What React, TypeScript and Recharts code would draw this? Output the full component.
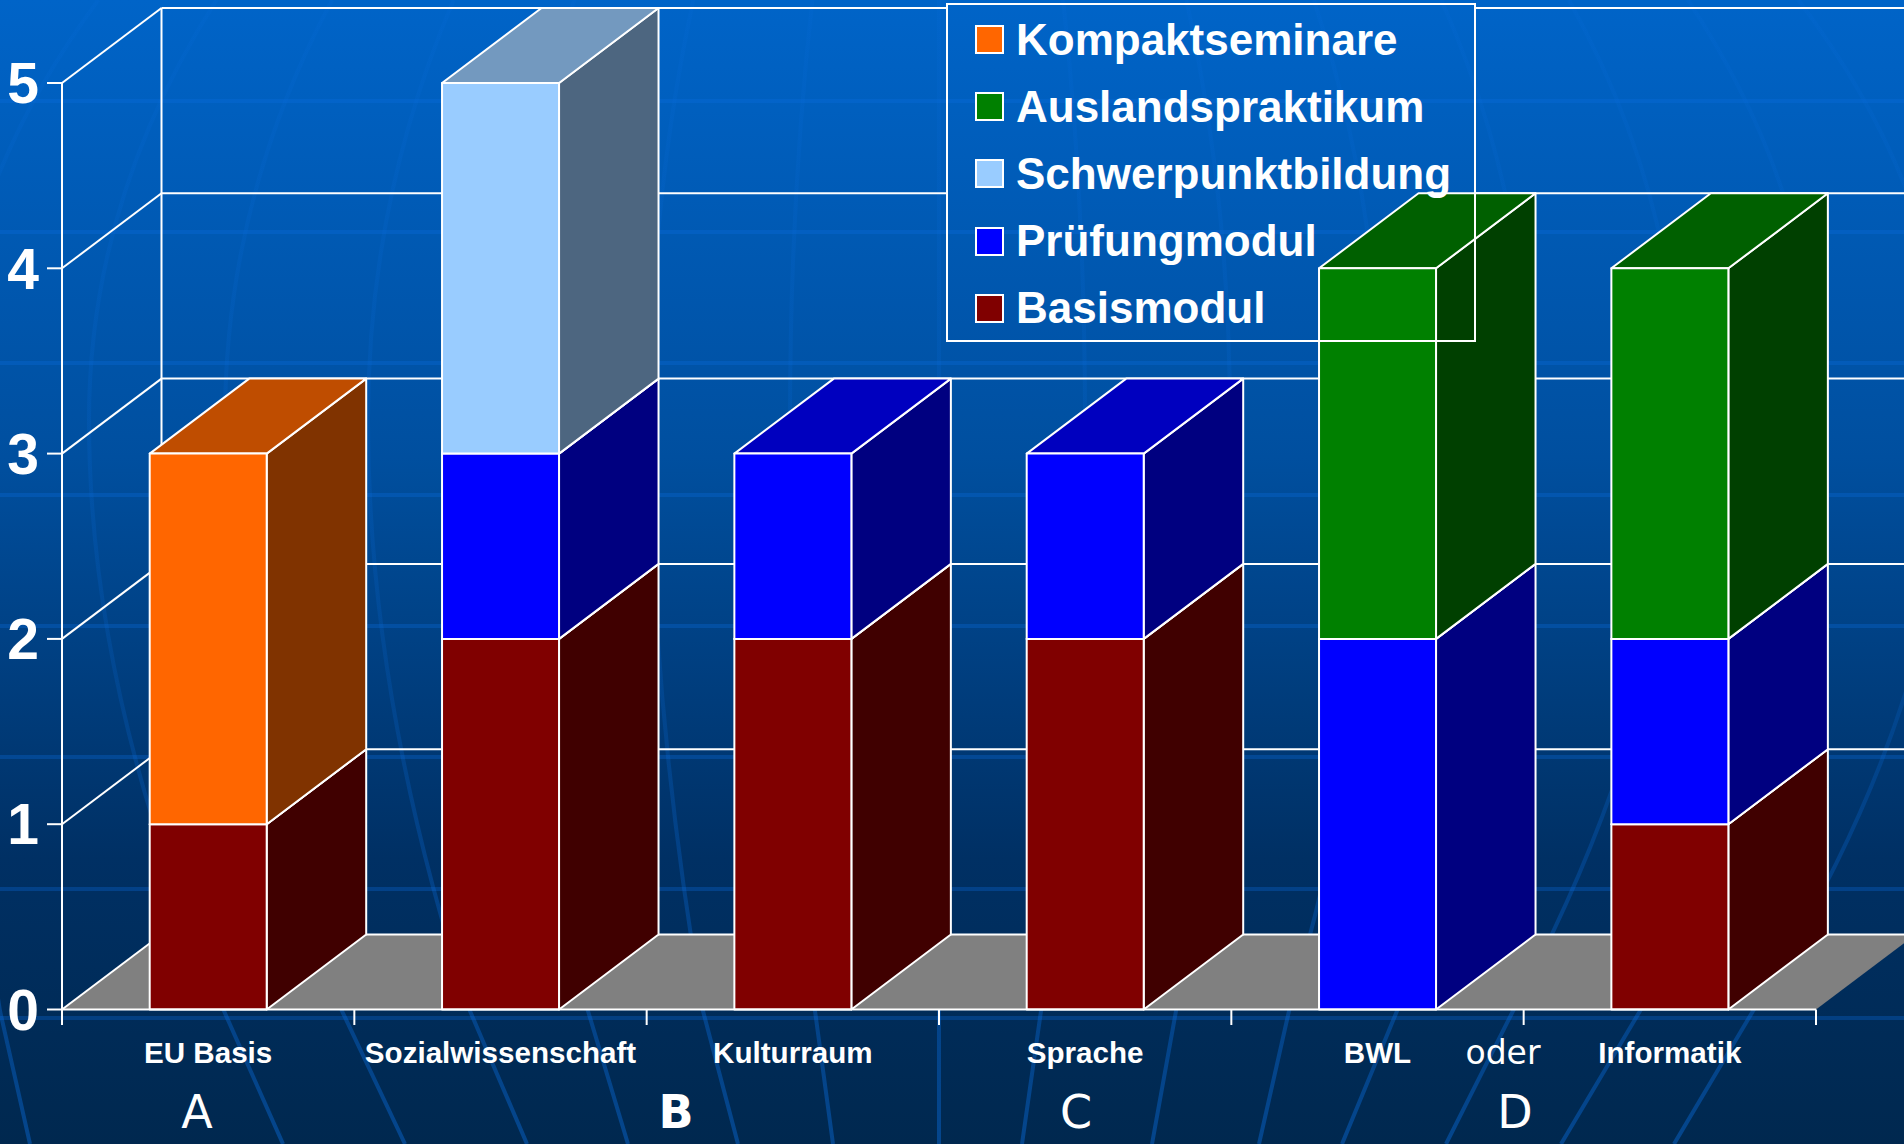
import { Bar, BarChart, Legend, ReferenceLine, XAxis, YAxis } from "recharts";

const categories = ["EU Basis", "Sozialwissenschaft", "Kulturraum", "Sprache", "BWL", "Informatik"];
const basismodul = [1, 2, 2, 2, 0, 1];
const pruefungmodul = [0, 1, 1, 1, 2, 1];
const schwerpunktbildung = [0, 2, 0, 0, 0, 0];
const auslandspraktikum = [0, 0, 0, 0, 2, 2];
const kompaktseminare = [2, 0, 0, 0, 0, 0];
const yTicks = [0, 1, 2, 3, 4, 5];

const tableData = categories.map((name, i) => ({
  name,
  Basismodul: basismodul[i],
  Prüfungmodul: pruefungmodul[i],
  Schwerpunktbildung: schwerpunktbildung[i],
  Auslandspraktikum: auslandspraktikum[i],
  Kompaktseminare: kompaktseminare[i],
}));

const W = 1904;
const H = 1144;
const DEPTH_X = 99.5;
const DEPTH_Y = 75;
const PLOT_LEFT = 62;
const PLOT_RIGHT = 1816;
const PLOT_TOP = 83;
const PLOT_BOTTOM = 1009.5;
const STEP = (PLOT_RIGHT - PLOT_LEFT) / categories.length;
const FONT = '"Liberation Sans", Arial, sans-serif';

// background decoration only: [x at bottom, x at y=1011, x at y=420]
const meridians = [
  [30, 0, -50], [283, 224, 89], [405, 342, 225], [527, 470, 368], [628, 588, 510],
  [738, 703, 650], [833, 815, 790], [939, 939, 939], [1022, 1041, 1085], [1152, 1176, 1230],
  [1259, 1289, 1380], [1342, 1397, 1530], [1446, 1513, 1680], [1561, 1640, 1820], [1674, 1753, 1950],
];
const bands = [101, 232, 363, 495, 626, 757, 889, 1018];

const shade = (hex: string, k: number) => {
  const n = parseInt(hex.slice(1), 16);
  const c = [(n >> 16) & 255, (n >> 8) & 255, n & 255].map((v) => Math.round(v * k));
  return `rgb(${c.join(",")})`;
};

const Box3D = (p: any) => {
  const { x, y, width, height, fill } = p;
  if (!height || height <= 0) return <g />;
  const r = x + width;
  const b = y + height;
  return (
    <g stroke="#fff" strokeWidth={2} strokeLinejoin="round">
      <polygon
        points={`${r},${y} ${r + DEPTH_X},${y - DEPTH_Y} ${r + DEPTH_X},${b - DEPTH_Y} ${r},${b}`}
        fill={shade(fill, 0.5)}
      />
      <polygon
        points={`${x},${y} ${x + DEPTH_X},${y - DEPTH_Y} ${r + DEPTH_X},${y - DEPTH_Y} ${r},${y}`}
        fill={shade(fill, 0.75)}
      />
      <rect x={x} y={y} width={width} height={height} fill={fill} />
    </g>
  );
};

// one wall line per value: the diagonal on the side wall and the line on the back wall
const wallLine = (value: number) => (p: any) => {
  const { x1, y1, x2, y2 } = p;
  if (x1 === undefined) return <g />;
  const bx = x1 + DEPTH_X;
  const by = y1 - DEPTH_Y;
  const behindLegend = by < 342;
  return (
    <g stroke="#fff" strokeWidth={2} fill="none">
      {value === 0 && (
        <>
          <polygon
            points={`${x1},${y1} ${bx},${by} ${x2 + DEPTH_X},${by} ${x2},${y2}`}
            fill="#808080"
            stroke="none"
          />
          <line x1={bx} y1={by} x2={bx} y2={PLOT_TOP - DEPTH_Y} />
        </>
      )}
      <line x1={x1} y1={y1} x2={bx} y2={by} />
      {behindLegend ? (
        <>
          <line x1={bx} y1={by} x2={946} y2={by} />
          <line x1={1475} y1={by} x2={W} y2={by} />
        </>
      ) : (
        <line x1={bx} y1={by} x2={W} y2={by} />
      )}
    </g>
  );
};

const CategoryTick = (p: any) => {
  const { x, payload, index } = p;
  return (
    <g>
      <line x1={x - STEP / 2} y1={PLOT_BOTTOM} x2={x - STEP / 2} y2={1025} stroke="#fff" strokeWidth={2} />
      {index === categories.length - 1 && (
        <line x1={x + STEP / 2} y1={PLOT_BOTTOM} x2={x + STEP / 2} y2={1025} stroke="#fff" strokeWidth={2} />
      )}
      <text x={x} y={1063} textAnchor="middle" fill="#fff" fontFamily={FONT} fontWeight="bold" fontSize={29.6}>
        {payload.value}
      </text>
    </g>
  );
};

const LegendBox = ({ payload }: any) => (
  <div
    style={{
      boxSizing: "border-box",
      width: "100%",
      height: "100%",
      border: "2px solid #fff",
      paddingTop: 1,
      fontFamily: FONT,
      fontWeight: "bold",
      fontSize: 44,
      color: "#fff",
    }}
  >
    {[...(payload || [])].reverse().map((e: any) => (
      <div key={e.value} style={{ display: "flex", alignItems: "center", height: 67.2 }}>
        <span
          style={{
            boxSizing: "border-box",
            width: 29,
            height: 29,
            marginLeft: 27,
            marginRight: 12,
            background: e.color,
            border: "2px solid #fff",
          }}
        />
        <span style={{ whiteSpace: "nowrap" }}>{e.value}</span>
      </div>
    ))}
  </div>
);

const Backdrop = () => (
  <svg width={W} height={H} style={{ position: "absolute", left: 0, top: 0 }}>
    <defs>
      <linearGradient id="page" x1="0" y1="0" x2="0" y2="1">
        <stop offset="0%" stopColor="#0064c8" />
        <stop offset="40%" stopColor="#004f9f" />
        <stop offset="75%" stopColor="#003064" />
        <stop offset="100%" stopColor="#00284f" />
      </linearGradient>
      <linearGradient id="meridian" gradientUnits="userSpaceOnUse" x1="0" y1="0" x2="0" y2={H}>
        <stop offset="0%" stopColor="#0a6ee0" stopOpacity={0.12} />
        <stop offset="60%" stopColor="#0a6ee0" stopOpacity={0.18} />
        <stop offset="100%" stopColor="#0a6ee0" stopOpacity={0.42} />
      </linearGradient>
    </defs>
    <rect width={W} height={H} fill="url(#page)" />
    <g stroke="#0a6ee0" strokeOpacity={0.3} strokeWidth={4}>
      {bands.map((y) => (
        <line key={y} x1={0} y1={y} x2={W} y2={y} />
      ))}
    </g>
    <g stroke="url(#meridian)" strokeWidth={4} fill="none">
      {meridians.map(([xb, x1, xm]) => (
        <path
          key={xb}
          d={`M${xb},${H} L${x1},1011 Q${xm},700 ${xm},420 Q${xm},200 ${xm + (939 - xm) * 0.15},0`}
        />
      ))}
    </g>
    <g fill="#fff" fontFamily='"DejaVu Sans", sans-serif' fontSize={46}>
      <text x={197} y={1128} textAnchor="middle">A</text>
      <text x={676} y={1128} textAnchor="middle" fontWeight="bold">B</text>
      <text x={1076} y={1128} textAnchor="middle">C</text>
      <text x={1515} y={1128} textAnchor="middle">D</text>
      <text x={1503} y={1064} textAnchor="middle" fontSize={33}>oder</text>
    </g>
  </svg>
);

const series = [
  { key: "Basismodul", color: "#800000" },
  { key: "Prüfungmodul", color: "#0000ff" },
  { key: "Schwerpunktbildung", color: "#99ccff" },
  { key: "Auslandspraktikum", color: "#008000" },
  { key: "Kompaktseminare", color: "#ff6600" },
];

export default function App() {
  return (
    <div style={{ position: "absolute", left: 0, top: 0, width: W, height: H, overflow: "hidden" }}>
      <Backdrop />
      <div style={{ position: "absolute", left: 0, top: 0 }}>
        <BarChart
          width={W}
          height={H}
          data={tableData}
          margin={{ top: PLOT_TOP, right: W - PLOT_RIGHT, bottom: 0, left: 0 }}
          barCategoryGap="30%"
        >
          <XAxis
            dataKey="name"
            height={H - PLOT_BOTTOM}
            axisLine={{ stroke: "#fff", strokeWidth: 2 }}
            tickLine={false}
            tick={<CategoryTick />}
            interval={0}
          />
          <YAxis
            width={PLOT_LEFT}
            domain={[0, 5]}
            ticks={yTicks}
            tickSize={15}
            tickMargin={8}
            axisLine={{ stroke: "#fff", strokeWidth: 2 }}
            tickLine={{ stroke: "#fff", strokeWidth: 2 }}
            tick={{ fill: "#fff", fontFamily: FONT, fontWeight: "bold", fontSize: 57 }}
          />
          {yTicks.map((v) => (
            <ReferenceLine key={v} y={v} zIndex={-100} shape={wallLine(v)} />
          ))}
          <Legend
            layout="horizontal"
            verticalAlign="middle"
            itemSorter={null}
            content={<LegendBox />}
            wrapperStyle={{ left: 946, top: 3, width: 530, height: 339 }}
          />
          {series.map((s) => (
            <Bar
              key={s.key}
              dataKey={s.key}
              stackId="a"
              fill={s.color}
              shape={Box3D}
              isAnimationActive={false}
            />
          ))}
        </BarChart>
      </div>
    </div>
  );
}
